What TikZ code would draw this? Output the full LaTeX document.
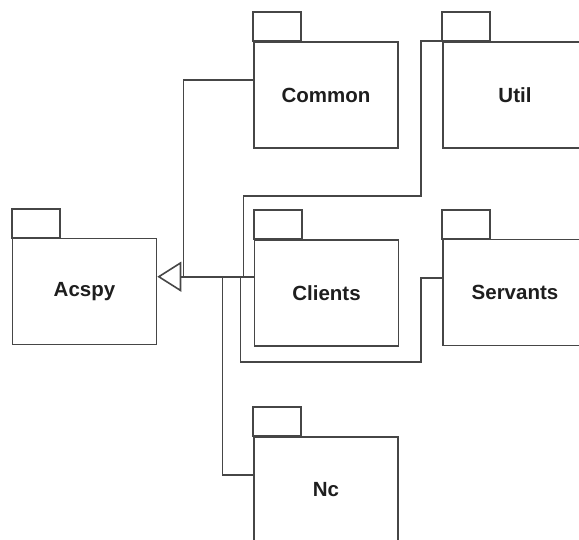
\documentclass[tikz,border=0pt]{standalone}
\usepackage{fontspec}
\setmainfont{Liberation Sans}
\usetikzlibrary{arrows.meta}
\definecolor{pkgline}{RGB}{70,70,70}
\definecolor{pkgtext}{RGB}{30,30,30}

\begin{document}
\begin{tikzpicture}[x=1pt, y=-1pt,
  pkg/.style={draw=pkgline, line width=1.6pt, minimum width=144pt, minimum height=106pt,
    inner sep=0pt, text=pkgtext, font=\fontsize{20.5}{24}\selectfont\bfseries},
  conn/.style={draw=pkgline, line width=1.6pt}]

\useasboundingbox (0,0) rectangle (579,539);

% Package bodies
\node[pkg] (acspy)    at (84.5,291.5) {Acspy};
\node[pkg] (common)   at (326,95)     {Common};
\node[pkg] (util)     at (515,95)     {Util};
\node[pkg] (clients)  at (326.5,293)  {Clients};
\node[pkg] (servants) at (515,292.5)  {Servants};
\node[pkg] (nc)       at (326,490)    {Nc};

% Package tabs
\foreach \p in {acspy,common,util,clients,servants,nc} {
  \draw[conn] (\p.north west) rectangle ++(48,-29);
}

% Junction points
\coordinate (tip)  at ([yshift=-39pt]acspy.north east);
\coordinate (jcom) at ([xshift=26pt]tip);
\coordinate (jnc)  at ([xshift=65pt]tip);
\coordinate (jsrv) at ([xshift=83pt]tip);
\coordinate (jutl) at ([xshift=86pt]tip);

% Generalisation towards Acspy
\draw[conn, -{Triangle[open, length=24pt, width=30pt, line width=1.6pt]}]
  (tip -| clients.west) -- (tip);

% Branches
\draw[conn] (jcom) |- ([yshift=-39pt]common.north west);
\draw[conn] (jutl) |- (421,196) |- (util.north west);
\draw[conn] (jsrv) |- (421,362) |- ([yshift=-39pt]servants.north west);
\draw[conn] (jnc)  |- ([yshift=-39pt]nc.north west);

\end{tikzpicture}
\end{document}
